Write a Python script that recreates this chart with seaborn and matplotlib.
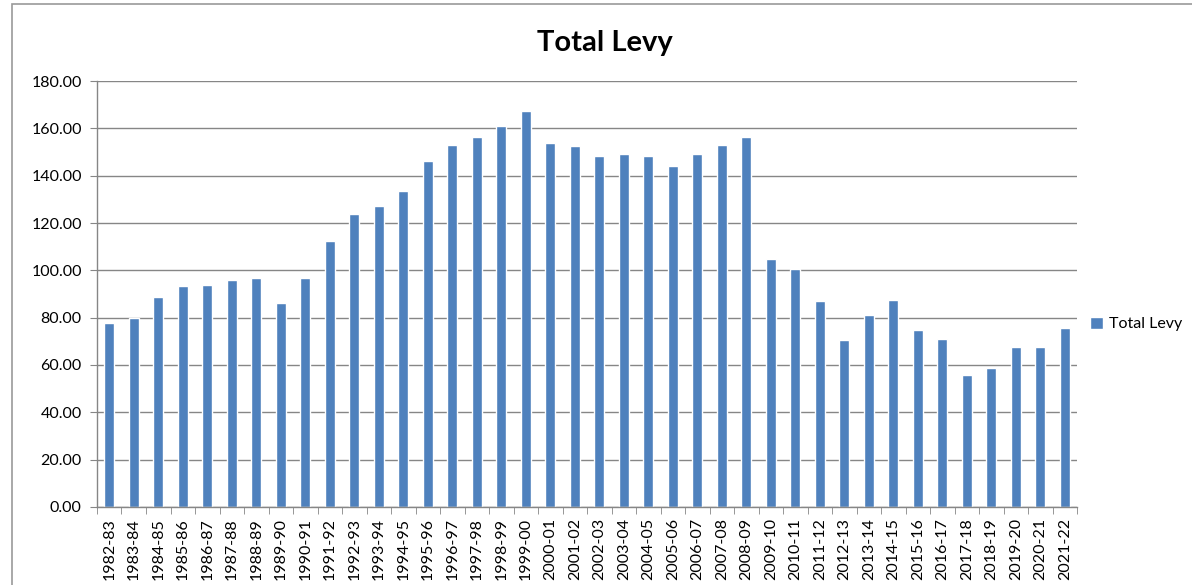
import matplotlib
matplotlib.use("Agg")
import matplotlib.pyplot as plt
from matplotlib.patches import Rectangle
from matplotlib.ticker import MultipleLocator, FixedLocator
import seaborn as sns
import pandas as pd
import numpy as np

# seasons and levy values
seasons = ['1982-83', '1983-84', '1984-85', '1985-86', '1986-87', '1987-88', '1988-89',
           '1989-90', '1990-91', '1991-92', '1992-93', '1993-94', '1994-95', '1995-96',
           '1996-97', '1997-98', '1998-99', '1999-00', '2000-01', '2001-02', '2002-03',
           '2003-04', '2004-05', '2005-06', '2006-07', '2007-08', '2008-09', '2009-10',
           '2010-11', '2011-12', '2012-13', '2013-14', '2014-15', '2015-16', '2016-17',
           '2017-18', '2018-19', '2019-20', '2020-21', '2021-22']
total_levy = [77.7, 79.8, 88.9, 93.5, 93.9, 95.9, 96.8, 86.0, 96.9, 112.4,
              123.9, 127.2, 133.7, 146.4, 152.9, 156.2, 160.8, 167.2, 154.0, 152.6,
              148.3, 149.2, 148.5, 144.2, 149.0, 152.8, 156.3, 104.9, 100.7, 87.2,
              70.7, 81.3, 87.5, 74.8, 71.1, 55.9, 58.7, 67.4, 67.4, 75.5]

df = pd.DataFrame({'season': seasons, 'levy': total_levy})

sns.set_style("white")
plt.rcParams['font.family'] = ['Lato', 'DejaVu Sans']
plt.rcParams['text.color'] = 'black'
plt.rcParams['xtick.labelcolor'] = 'black'
plt.rcParams['ytick.labelcolor'] = 'black'

fig = plt.figure(figsize=(11.92, 5.85), dpi=100)
ax = fig.add_axes([97 / 1192, 78 / 585, 980 / 1192, 426 / 585])

sns.barplot(data=df, x='season', y='levy', color='#4F81BD', width=0.4,
            saturation=1, label='Total Levy', ax=ax)

grid_col = '#868686'
ax.set_ylim(0, 180)
ax.set_xlim(-0.5, len(seasons) - 0.5)
ax.yaxis.set_major_locator(MultipleLocator(20))
ax.yaxis.set_major_formatter(matplotlib.ticker.FormatStrFormatter('%.2f'))
ax.grid(axis='y', color=grid_col, linewidth=1)
ax.set_axisbelow(True)
ax.set_xlabel('')
ax.set_ylabel('')

for s in ['top', 'right']:
    ax.spines[s].set_visible(False)
for s in ['left', 'bottom']:
    ax.spines[s].set_color(grid_col)
    ax.spines[s].set_linewidth(1)

ax.tick_params(axis='y', length=5, color=grid_col, labelsize=11.5, pad=6, left=True)
ax.tick_params(axis='x', which='major', length=0, labelsize=11.5, rotation=90, pad=8)
ax.xaxis.set_minor_locator(FixedLocator(np.arange(-0.5, len(seasons), 1.0)))
ax.tick_params(axis='x', which='minor', length=5, color=grid_col, bottom=True)

fig.text(605 / 1192, 1 - 51 / 585, 'Total Levy', ha='center', va='baseline',
         fontsize=21, fontweight='bold', color='black')

ax.legend(loc='center left', bbox_to_anchor=(1082 / 1192, 1 - 324 / 585),
          bbox_transform=fig.transFigure, frameon=False, fontsize=11.5,
          handlelength=0.8, handleheight=0.8, handletextpad=0.4, borderpad=0)

fig.patches.append(Rectangle((12 / 1192, -0.05), 1.2, 1.05 - 4 / 585,
                             transform=fig.transFigure, fill=False,
                             edgecolor='#999999', linewidth=1.2))

fig.savefig('out.png', dpi=100)
